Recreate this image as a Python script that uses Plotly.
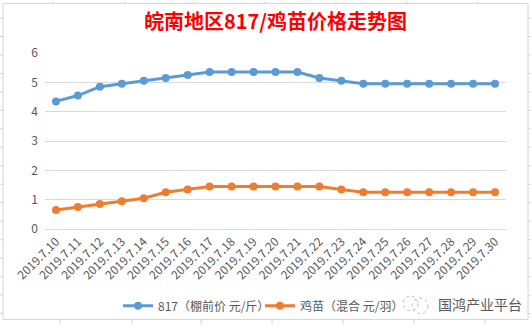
import plotly.graph_objects as go

dates = ["2019.7.10", "2019.7.11", "2019.7.12", "2019.7.13", "2019.7.14", "2019.7.15",
         "2019.7.16", "2019.7.17", "2019.7.18", "2019.7.19", "2019.7.20", "2019.7.21",
         "2019.7.22", "2019.7.23", "2019.7.24", "2019.7.25", "2019.7.26", "2019.7.27",
         "2019.7.28", "2019.7.29", "2019.7.30"]
price_817 = [4.35, 4.55, 4.85, 4.95, 5.05, 5.15, 5.25, 5.35, 5.35, 5.35, 5.35, 5.35,
             5.15, 5.05, 4.95, 4.95, 4.95, 4.95, 4.95, 4.95, 4.95]
price_chick = [0.65, 0.75, 0.85, 0.95, 1.05, 1.25, 1.35, 1.45, 1.45, 1.45, 1.45, 1.45,
               1.45, 1.35, 1.25, 1.25, 1.25, 1.25, 1.25, 1.25, 1.25]
series_names = ["817（棚前价 元/斤）", "鸡苗（混合 元/羽）"]
title_text = "皖南地区817/鸡苗价格走势图"
watermark = "国鸿产业平台"

W, H = 531, 332
L, R, T, B = 45, 25, 53, 98
pw, ph = W - L - R, H - T - B

def px(x):
    return (x - L) / pw

def py(y):
    return (H - B - y) / ph

fig = go.Figure()
fig.add_trace(go.Scatter(x=dates, y=price_817, name=series_names[0], mode="lines+markers",
                         line=dict(color="#5B9BD5", width=3), showlegend=True,
                         marker=dict(size=8, color="#5B9BD5"), legend="legend"))
fig.add_trace(go.Scatter(x=dates, y=price_chick, name=series_names[1], mode="lines+markers",
                         line=dict(color="#ED7D31", width=3), showlegend=True,
                         marker=dict(size=8, color="#ED7D31"), legend="legend2"))

shapes = []
shapes.append(dict(type="rect", xref="paper", yref="paper", x0=px(3), x1=px(528),
                   y0=py(327), y1=py(2), line=dict(color="#D4D4D4", width=1)))
for x in [53, 125, 194, 265, 336, 407, 478]:
    shapes.append(dict(type="line", xref="paper", yref="paper", x0=px(x), x1=px(x),
                       y0=py(0), y1=py(2), line=dict(color="#D4D4D4", width=1)))
    shapes.append(dict(type="line", xref="paper", yref="paper", x0=px(x + 7), x1=px(x + 7),
                       y0=py(327), y1=py(332), line=dict(color="#D4D4D4", width=1)))
for y in range(17, 332, 19):
    shapes.append(dict(type="line", xref="paper", yref="paper", x0=px(0), x1=px(3),
                       y0=py(y), y1=py(y), line=dict(color="#D4D4D4", width=1)))
    shapes.append(dict(type="line", xref="paper", yref="paper", x0=px(528), x1=px(531),
                       y0=py(y), y1=py(y), line=dict(color="#D4D4D4", width=1)))
shapes.append(dict(type="circle", xref="paper", yref="paper", x0=px(403), x1=px(418),
                   y0=py(318), y1=py(303), line=dict(color="#BBBBBB", width=1, dash="dot")))
shapes.append(dict(type="circle", xref="paper", yref="paper", x0=px(412), x1=px(428),
                   y0=py(321), y1=py(305), line=dict(color="#BBBBBB", width=1, dash="dot")))

legend_common = dict(orientation="h", xanchor="left", yanchor="middle",
                     font=dict(size=12, color="#595959"), itemwidth=30,
                     bgcolor="rgba(0,0,0,0)", y=py(313))

fig.update_layout(
    width=W, height=H,
    showlegend=True,
    margin=dict(l=L, r=R, t=T, b=B),
    paper_bgcolor="white", plot_bgcolor="white",
    font=dict(family="Noto Sans CJK SC, Microsoft YaHei, sans-serif", color="#595959"),
    title=dict(text="<b>" + title_text + "</b>", x=0.5, xref="paper", xanchor="center",
               y=1 - 22 / H, yanchor="middle", yref="container",
               font=dict(size=20, color="#FF0000", family="Noto Sans CJK SC, sans-serif")),
    xaxis=dict(type="category", range=[-0.5, 20.5], tickangle=-45, showgrid=False,
               showline=True, linecolor="#D9D9D9", linewidth=1, ticks="",
               tickfont=dict(size=12, color="#595959"), zeroline=False),
    yaxis=dict(range=[0, 6], dtick=1, showgrid=True, gridcolor="#D9D9D9", gridwidth=1,
               zeroline=False, showline=False, ticks="", ticklabelstandoff=6,
               tickfont=dict(size=12, color="#595959")),
    legend=dict(legend_common, x=px(118)),
    legend2=dict(legend_common, x=px(260)),
    shapes=shapes,
    annotations=[dict(text=watermark, xref="paper", yref="paper", x=px(436), y=py(311),
                      xanchor="left", yanchor="middle", showarrow=False,
                      font=dict(size=14, color="#595959"))],
)

fig.write_html("out.html")
